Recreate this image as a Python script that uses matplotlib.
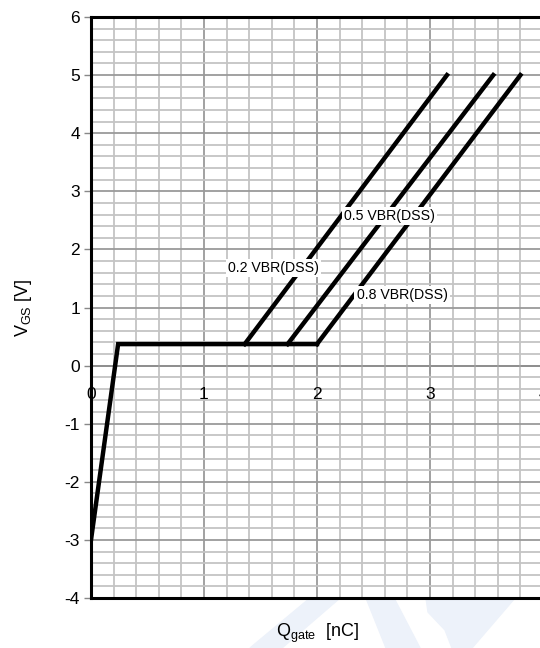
import matplotlib.pyplot as plt
from matplotlib.patches import Polygon
import numpy as np

plt.rcParams['font.family'] = ['Liberation Sans', 'DejaVu Sans']
plt.rcParams['axes.unicode_minus'] = False

# gate charge curves: (Q [nC], Vgs [V])
rise_q = [0.0, 0.24]
rise_v = [-3.0, 0.37]
curve_labels = ["0.2 VBR(DSS)", "0.5 VBR(DSS)", "0.8 VBR(DSS)"]
plateau_end = [1.36, 1.74, 2.0]
top_q = [3.15, 3.56, 3.8]
plateau_v = 0.37
top_v = 5.0

label_pos = [(1.21, 1.68), (2.24, 2.58), (2.35, 1.21)]

x_ticks = [0, 1, 2, 3, 4]
y_ticks = [-4, -3, -2, -1, 0, 1, 2, 3, 4, 5, 6]

W, H = 540, 648
fig = plt.figure(figsize=(5.4, 6.48), dpi=100)

# faint watermark (pixel outlines, top-left origin)
wm = "#edf2fa"
shapes = [
    [(250, 648), (282, 648), (340, 598), (310, 598)],
    [(366, 598), (394, 598), (420, 648), (386, 648)],
    [(426, 598), (515, 598), (472, 648), (452, 648), (445, 630), (428, 612)],
]
for pts in shapes:
    fig.patches.append(Polygon([[x / W, 1 - y / H] for x, y in pts], closed=True,
                               transform=fig.transFigure, color=wm, zorder=0))

ax = fig.add_axes([91 / W, 1 - 598 / H, 452 / W, 581 / H])
ax.set_zorder(2)
ax.set_xlim(0, 4)
ax.set_ylim(-4, 6)
ax.patch.set_alpha(0)

ax.set_xticks(np.arange(0, 4.01, 0.2), minor=True)
ax.set_yticks(np.arange(-4, 6.01, 0.2), minor=True)
ax.set_xticks(x_ticks)
ax.set_yticks(y_ticks)
ax.grid(which='minor', color='#c4c4c4', lw=1.3, zorder=0)
ax.grid(which='major', color='#9a9a9a', lw=1.3, zorder=0)
ax.tick_params(axis='x', which='both', bottom=False, labelbottom=False)
ax.tick_params(axis='y', which='minor', left=False)
ax.tick_params(axis='y', which='major', length=5, width=1, color='#888888',
               labelsize=12.5, pad=3)

for s in ['left', 'top', 'bottom']:
    ax.spines[s].set_linewidth(2.2)
ax.spines['right'].set_visible(False)

ax.axhline(0, color='black', lw=1.2, zorder=1)
for t in x_ticks:
    ax.plot([t, t], [0, -0.12], color='#888888', lw=1.2, zorder=1)
    ax.text(t, -0.5, str(t), ha='center', va='center', fontsize=12.5, zorder=2)

ax.plot(rise_q + [plateau_end[-1]], rise_v + [plateau_v], color='black', lw=3.2,
        solid_joinstyle='miter', zorder=3)
for pe, tq in zip(plateau_end, top_q):
    ax.plot([pe, tq], [plateau_v, top_v], color='black', lw=3.2, zorder=3)

for lab, (lx, ly) in zip(curve_labels, label_pos):
    ax.text(lx, ly, lab, fontsize=10.2, ha='left', va='center', zorder=4,
            bbox=dict(facecolor='white', edgecolor='none', pad=1.5))

ax.set_ylabel("V$_{\\mathregular{GS}}$ [V]", fontsize=13, labelpad=22)
ax.set_xlabel("Q$_{\\mathregular{gate}}$  [nC]", fontsize=13, labelpad=17)

fig.savefig("out.png", dpi=100)
